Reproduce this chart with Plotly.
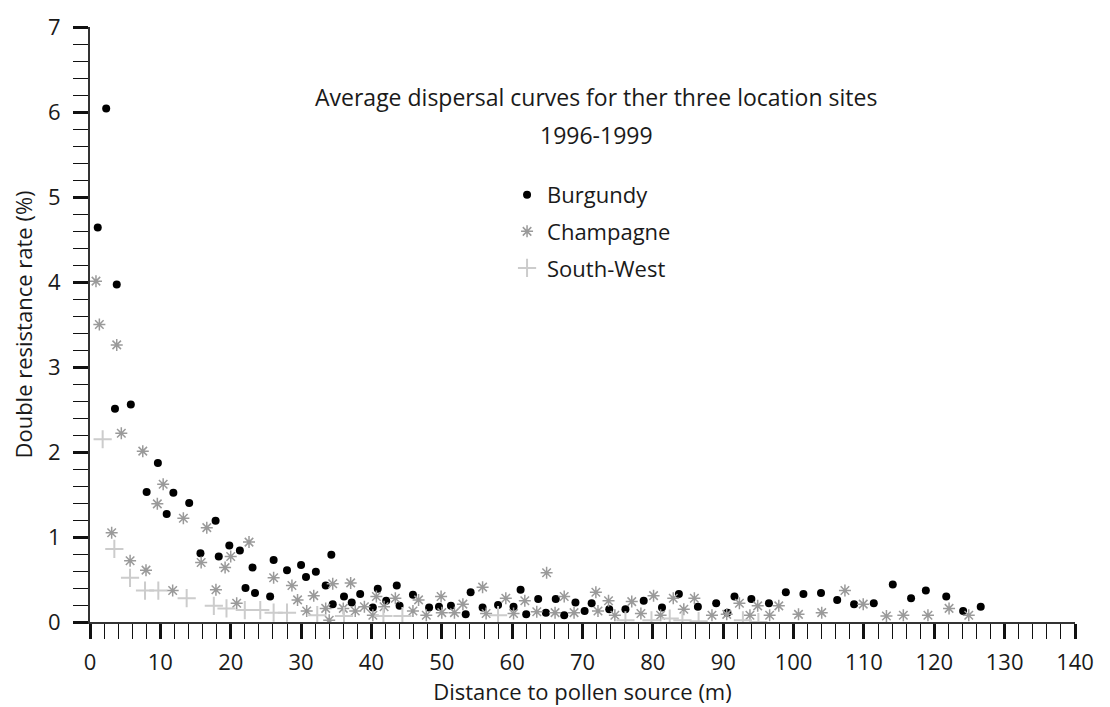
import plotly.graph_objects as go

# ---------------- data ----------------
burgundy_x = [1.1, 2.3, 3.55, 3.8, 5.8, 8.05, 9.65, 10.9, 11.85, 14.1, 15.7, 17.85, 18.3, 19.8,
              21.3, 22.1, 23.1, 23.45, 25.6, 26.1, 28.0, 30.0, 30.7, 32.1, 33.5, 34.3, 34.5,
              36.1, 37.2, 38.4, 40.2, 40.9, 42.1, 43.6, 44.0, 45.9, 48.2, 49.6, 51.3, 53.4,
              54.1, 55.8, 58.0, 60.2, 61.2, 62.0, 63.7, 64.8, 66.2, 67.4, 69.0, 70.3, 71.3,
              73.8, 76.1, 78.7, 81.3, 83.7, 86.4, 89.0, 90.6, 91.6, 94.0, 96.5, 98.9, 101.4,
              103.9, 106.2, 108.6, 111.4, 114.1, 116.7, 118.8, 121.7, 124.1, 126.6]
burgundy_y = [4.64, 6.04, 2.51, 3.97, 2.56, 1.53, 1.87, 1.27, 1.52, 1.40, 0.81, 1.19, 0.77, 0.90,
              0.84, 0.40, 0.64, 0.34, 0.30, 0.73, 0.61, 0.67, 0.53, 0.59, 0.43, 0.79, 0.21,
              0.30, 0.23, 0.33, 0.17, 0.39, 0.25, 0.43, 0.19, 0.32, 0.17, 0.18, 0.19, 0.09,
              0.35, 0.17, 0.20, 0.18, 0.38, 0.09, 0.27, 0.11, 0.27, 0.08, 0.23, 0.13, 0.22,
              0.15, 0.15, 0.25, 0.17, 0.33, 0.18, 0.22, 0.11, 0.30, 0.27, 0.22, 0.35, 0.33,
              0.34, 0.26, 0.21, 0.22, 0.44, 0.28, 0.37, 0.30, 0.13, 0.18]

champagne_x = [0.85, 1.33, 3.08, 3.8, 4.45, 5.7, 7.5, 7.96, 9.57, 10.4, 11.75, 13.27, 15.8, 16.6,
               17.9, 19.2, 20.0, 20.85, 22.6, 26.1, 28.7, 29.5, 30.8, 31.8, 33.5, 34.0, 34.5,
               36.0, 37.05, 37.7, 39.0, 40.2, 40.7, 41.8, 43.4, 45.9, 46.7, 47.8, 49.9, 50.0,
               51.8, 53.0, 55.8, 56.3, 59.1, 60.2, 61.8, 63.5, 64.9, 66.1, 67.4, 68.8, 71.9,
               72.2, 73.7, 74.6, 77.0, 78.3, 80.1, 81.1, 82.9, 84.4, 85.9, 88.4, 90.5, 92.3,
               93.8, 94.9, 96.6, 97.9, 100.7, 104.0, 107.3, 109.9, 113.2, 115.6, 119.1, 122.1,
               124.9]
champagne_y = [4.01, 3.50, 1.05, 3.26, 2.22, 0.72, 2.01, 0.61, 1.39, 1.62, 0.37, 1.22, 0.70, 1.11,
               0.38, 0.64, 0.77, 0.22, 0.94, 0.52, 0.43, 0.26, 0.13, 0.31, 0.16, 0.02, 0.45,
               0.16, 0.46, 0.13, 0.18, 0.08, 0.30, 0.18, 0.28, 0.13, 0.26, 0.08, 0.30, 0.11,
               0.11, 0.21, 0.41, 0.10, 0.28, 0.10, 0.25, 0.12, 0.58, 0.11, 0.30, 0.11, 0.35,
               0.13, 0.25, 0.08, 0.24, 0.10, 0.31, 0.08, 0.28, 0.15, 0.28, 0.08, 0.09, 0.22,
               0.08, 0.19, 0.08, 0.19, 0.09, 0.11, 0.37, 0.21, 0.07, 0.08, 0.08, 0.16,
               0.08]

southwest_x = [1.8, 3.46, 5.69, 7.82, 9.71, 13.74, 17.6, 19.4, 22.0, 24.2, 26.1, 28.0, 32.3,
               36.1, 41.7, 44.4, 58.0, 76.1, 79.8, 82.4, 84.2, 86.5, 92.8, 95.0]
southwest_y = [2.15, 0.86, 0.52, 0.37, 0.37, 0.28, 0.19, 0.16, 0.14, 0.14, 0.11, 0.11, 0.08,
               0.07, 0.07, 0.07, 0.08, 0.02, 0.02, 0.04, 0.02, 0.01, 0.02, 0.00]

title_lines = ["Average dispersal curves for ther three location sites", "1996-1999"]
x_title = "Distance to pollen source (m)"
y_title = "Double resistance rate (%)"

FONT = "Open Sans"
TXT = "#1a1a1a"

fig = go.Figure()
fig.add_trace(go.Scatter(
    x=burgundy_x, y=burgundy_y, mode="markers", name="Burgundy", legendgroup="a",
    marker=dict(symbol="circle", size=8, color="black")))
fig.add_trace(go.Scatter(
    x=champagne_x, y=champagne_y, mode="markers", name="Champagne", legendgroup="b",
    marker=dict(symbol="asterisk-open", size=10, color="#9a9a9a",
                line=dict(width=1.5, color="#9a9a9a"))))
fig.add_trace(go.Scatter(
    x=southwest_x, y=southwest_y, mode="markers", name="South-West", legendgroup="c",
    marker=dict(symbol="cross-thin-open", size=13, color="#cccccc",
                line=dict(width=2, color="#cccccc"))))

axis_common = dict(
    showgrid=False, zeroline=False, showline=True, linecolor="#333333", linewidth=2,
    ticks="outside", tickcolor="#111111", tickwidth=2.5, ticklen=15,
    tickfont=dict(family=FONT, size=22, color=TXT),
    mirror=False, automargin=False,
)
fig.update_xaxes(
    **axis_common, range=[0, 140], dtick=10, tick0=0,
    minor=dict(dtick=2, ticks="outside", ticklen=15, tickwidth=1, tickcolor="#111111"),
    title=dict(text=x_title, font=dict(family=FONT, size=22, color=TXT), standoff=5),
    ticklabelstandoff=5,
)
fig.update_yaxes(
    **axis_common, range=[0, 7], dtick=1, tick0=0,
    minor=dict(dtick=0.2, ticks="outside", ticklen=15, tickwidth=1, tickcolor="#111111"),
    title=dict(text=y_title, font=dict(family=FONT, size=22, color=TXT), standoff=16),
    ticklabelstandoff=8,
)

fig.add_annotation(text=title_lines[0], xref="paper", yref="paper", x=0.514, y=0.882,
                   xanchor="center", yanchor="middle", showarrow=False,
                   font=dict(family=FONT, size=23, color=TXT))
fig.add_annotation(text=title_lines[1], xref="paper", yref="paper", x=0.514, y=0.818,
                   xanchor="center", yanchor="middle", showarrow=False,
                   font=dict(family=FONT, size=23, color=TXT))

# the page adds an 8px body margin, so the margins are shifted to compensate
fig.update_layout(
    width=1110, height=707,
    margin=dict(l=82, r=43, t=19, b=93),
    paper_bgcolor="white", plot_bgcolor="white",
    font=dict(family=FONT, size=22, color=TXT),
    showlegend=True,
    legend=dict(x=0.4234, y=0.753, xanchor="left", yanchor="top",
                bgcolor="rgba(0,0,0,0)", font=dict(family=FONT, size=22, color=TXT),
                tracegroupgap=5, traceorder="grouped", itemwidth=30),
)

fig.write_html("out.html")
